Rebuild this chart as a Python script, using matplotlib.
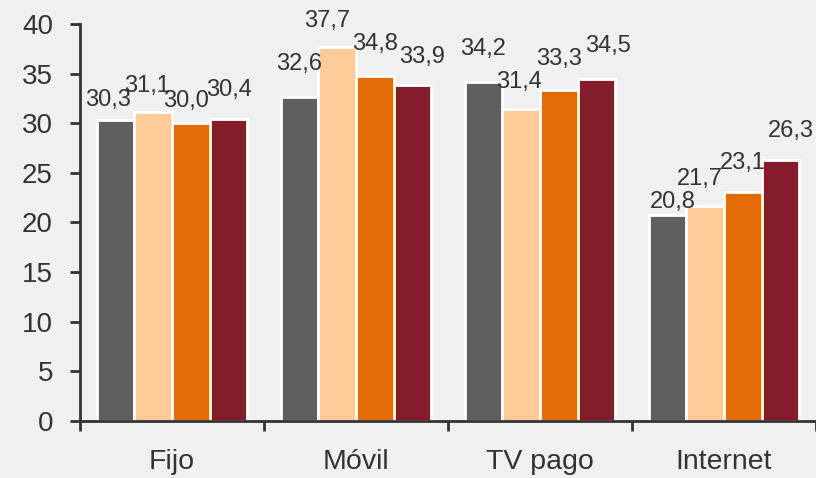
import numpy as np
import matplotlib.pyplot as plt

plt.rcParams['font.family'] = ['Liberation Sans', 'DejaVu Sans']

categories = ['Fijo', 'Móvil', 'TV pago', 'Internet']
serie_1 = [30.3, 32.6, 34.2, 20.8]
serie_2 = [31.1, 37.7, 31.4, 21.7]
serie_3 = [30.0, 34.8, 33.3, 23.1]
serie_4 = [30.4, 33.9, 34.5, 26.3]
series = [serie_1, serie_2, serie_3, serie_4]
colors = ['#5F5F5F', '#FFCC99', '#E36C09', '#841C2C']

# label nudges (pixels) per series, per category -- Excel placed them unevenly
label_dx = [[-7, 0, 0, 5], [-6, -10, -2, -5], [-5, 0, 0, 0], [0, 9, 11, 10]]
label_dy = [[20, 33, 33, 13], [26, 26, 27, 27], [22, 32, 31, 29], [29, 28, 33, 29]]

bg = '#F0F0F0'
ink = '#333333'

fig = plt.figure(figsize=(8.16, 4.78), dpi=100, facecolor=bg)
ax = fig.add_axes([80/816, 57/478, 736/816, 397/478])
ax.set_facecolor(bg)

centers = np.arange(len(categories)) + 0.5
w = 0.205
px = 72 / fig.dpi
for i, vals in enumerate(series):
    x = centers + (i - 1.5) * w
    ax.bar(x, vals, width=w, color=colors[i], edgecolor='white', linewidth=2.0, zorder=2)
    for j, (xi, v) in enumerate(zip(x, vals)):
        ax.annotate(f'{v:.1f}'.replace('.', ','), (xi, v),
                    xytext=(label_dx[i][j] * px, label_dy[i][j] * px),
                    textcoords='offset points', ha='center', va='center',
                    fontsize=17, color=ink, zorder=3)

ax.set_xlim(0, 4)
ax.set_ylim(0, 40)
ax.set_yticks(range(0, 41, 5))
ax.set_xticks(range(0, 5))
ax.set_xticklabels([])
ax.set_xticks(centers, minor=True)
ax.set_xticklabels(categories, minor=True)
ax.tick_params(axis='x', which='minor', length=0, pad=20, labelsize=20.5, labelcolor=ink)
ax.tick_params(axis='x', which='major', direction='out', length=7.5, width=2, color=ink)
ax.tick_params(axis='y', direction='out', length=7.5, width=2, color=ink,
               labelsize=20, labelcolor=ink, pad=12)

for s in ['top', 'right']:
    ax.spines[s].set_visible(False)
for s in ['left', 'bottom']:
    ax.spines[s].set_color(ink)
    ax.spines[s].set_linewidth(2)

fig.savefig('out.png', dpi=100, facecolor=bg)
